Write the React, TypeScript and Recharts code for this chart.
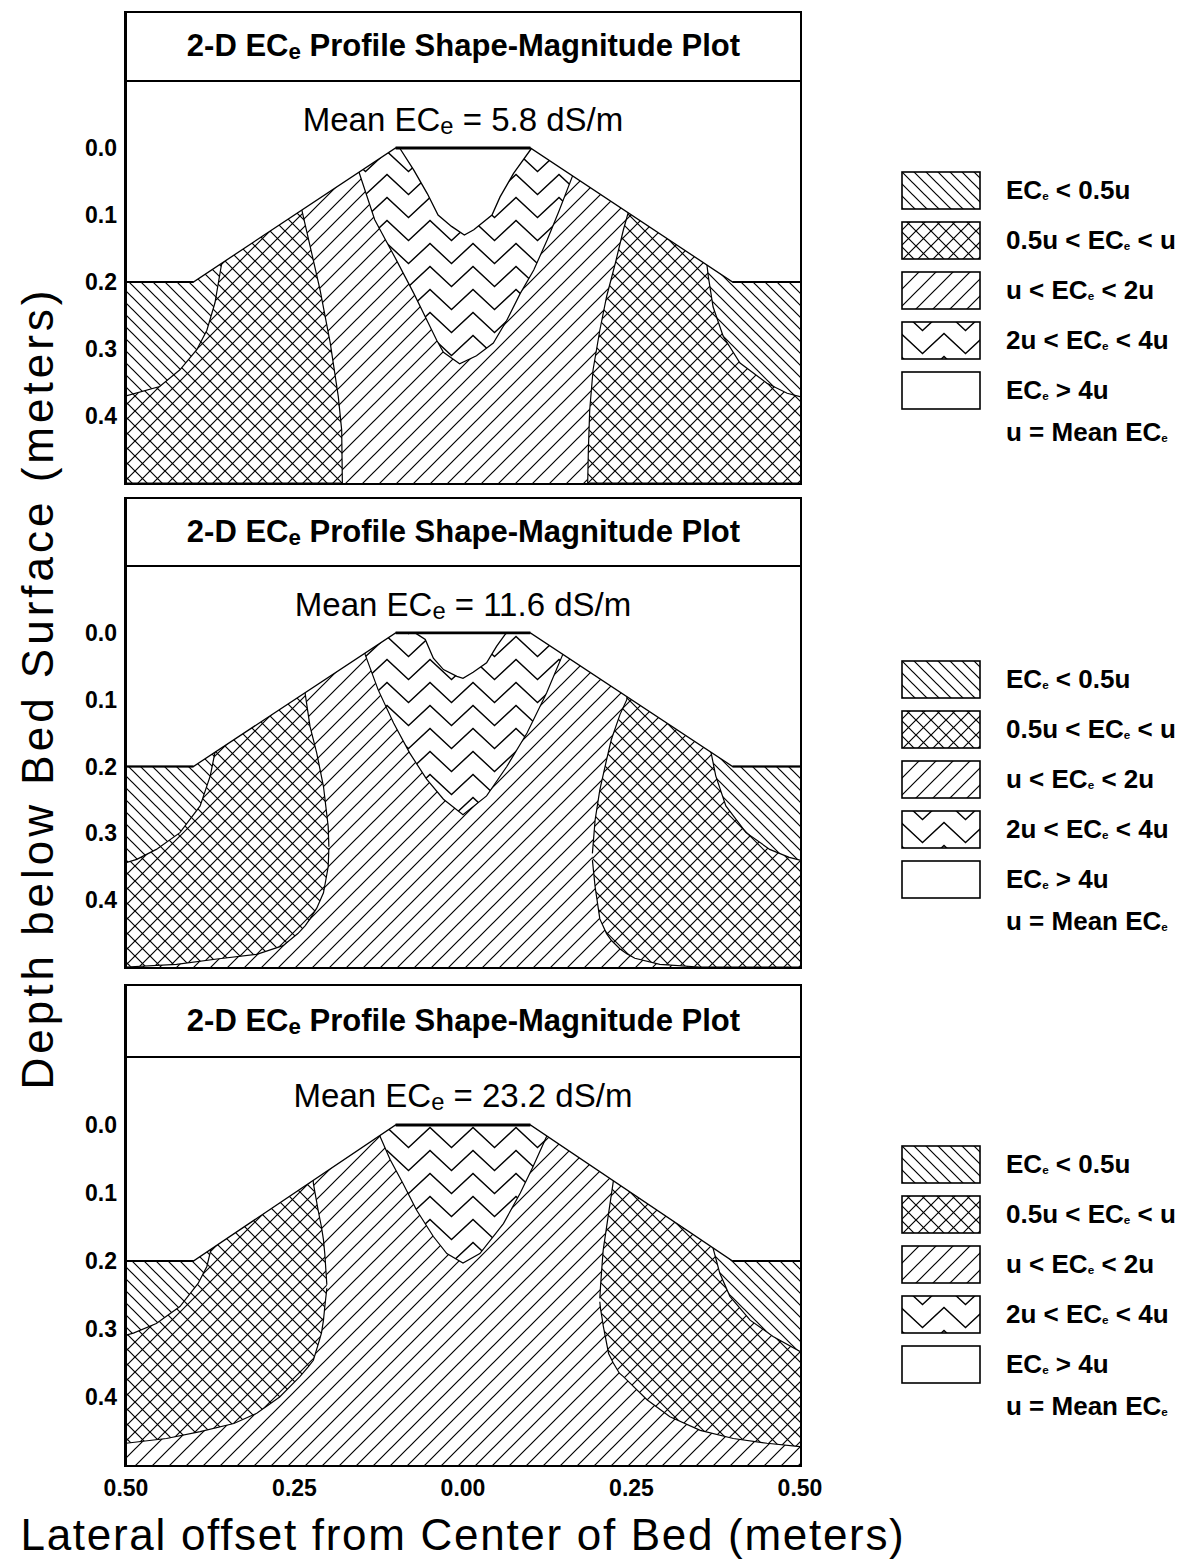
import React from 'react'
import { ComposedChart, Area, Line, XAxis, YAxis } from 'recharts'

// Each region row: [lateral offset (m), upper depth (m), lower depth (m)]
type Row = [number, number, number]

const FONT = '"Liberation Sans", Arial, Helvetica, sans-serif'

/* ---------- shared values ---------- */

const xTicks = [-0.5, -0.25, 0, 0.25, 0.5]
const yTicks = [0, 0.1, 0.2, 0.3, 0.4]
const meanEce = ['5.8', '11.6', '23.2']

// bed surface profile: [offset, depth]
const surface: [number, number][] = [[-0.5, 0.2], [-0.4, 0.2], [-0.1, 0], [0.1, 0], [0.4, 0.2], [0.5, 0.2]]
const crest: [number, number][] = [[-0.1, 0], [0.1, 0]]
const shoulderLeft: [number, number][] = [[-0.5, 0.2], [-0.4, 0.2]]
const shoulderRight: [number, number][] = [[0.4, 0.2], [0.5, 0.2]]
const wholeBed: Row[] = [[-0.5, -0.1, 0.5], [0.5, -0.1, 0.5]]

const legendPre = ['EC', '0.5u < EC', 'u < EC', '2u < EC', 'EC']
const legendPost = [' < 0.5u', ' < u', ' < 2u', ' < 4u', ' > 4u']
const legendKinds = ['back', 'cross', 'diag', 'zig', 'white']

/* ---------- panel 1 : mean 5.8 dS/m ---------- */

const p1BackLeft: Row[] = [
  [-0.5, -0.1, 0.37], [-0.45, -0.1, 0.356], [-0.42, -0.1, 0.331], [-0.395, -0.1, 0.301],
  [-0.38, -0.1, 0.272], [-0.368, -0.1, 0.231], [-0.358, -0.1, 0.172], [-0.352, -0.1, 0.14],
]
const p1BackRight: Row[] = [
  [0.356, -0.1, 0.14], [0.362, -0.1, 0.175], [0.364, -0.1, 0.192], [0.371, -0.1, 0.237],
  [0.386, -0.1, 0.281], [0.411, -0.1, 0.321], [0.451, -0.1, 0.351], [0.481, -0.1, 0.366], [0.5, -0.1, 0.371],
]
const p1CrossLeft: Row[] = [
  [-0.5, -0.1, 0.5], [-0.25, -0.1, 0.5], [-0.239, 0.093, 0.5], [-0.229, 0.137, 0.5], [-0.212, 0.212, 0.5],
  [-0.197, 0.291, 0.5], [-0.185, 0.371, 0.5], [-0.18, 0.421, 0.5], [-0.179, 0.5, 0.5],
]
const p1CrossRight: Row[] = [
  [0.185, 0.5, 0.5], [0.186, 0.451, 0.5], [0.188, 0.391, 0.5], [0.193, 0.331, 0.5], [0.203, 0.272, 0.5],
  [0.213, 0.222, 0.5], [0.226, 0.172, 0.5], [0.238, 0.122, 0.5], [0.245, 0.097, 0.5], [0.256, -0.1, 0.5], [0.5, -0.1, 0.5],
]
const p1Zig: Row[] = [
  [-0.16, -0.1, 0.0], [-0.154, -0.1, 0.037], [-0.131, -0.1, 0.107], [-0.099, -0.1, 0.167], [-0.073, -0.1, 0.217],
  [-0.039, -0.1, 0.287], [-0.029, -0.1, 0.305], [-0.005, -0.1, 0.322], [0.02, -0.1, 0.31], [0.045, -0.1, 0.291],
  [0.065, -0.1, 0.257], [0.085, -0.1, 0.217], [0.105, -0.1, 0.182], [0.125, -0.1, 0.137], [0.142, -0.1, 0.095],
  [0.164, -0.1, 0.038], [0.17, -0.1, 0.0],
]
const p1White: Row[] = [
  [-0.094, -0.1, 0], [-0.073, -0.1, 0.033], [-0.053, -0.1, 0.068], [-0.037, -0.1, 0.1], [-0.017, -0.1, 0.117],
  [0.002, -0.1, 0.13], [0.016, -0.1, 0.122], [0.043, -0.1, 0.1], [0.055, -0.1, 0.073], [0.075, -0.1, 0.038], [0.102, -0.1, 0],
]

/* ---------- panel 2 : mean 11.6 dS/m ---------- */

const p2BackLeft: Row[] = [
  [-0.5, -0.1, 0.344], [-0.484, -0.1, 0.339], [-0.455, -0.1, 0.324], [-0.42, -0.1, 0.299],
  [-0.39, -0.1, 0.259], [-0.375, -0.1, 0.214], [-0.368, -0.1, 0.179], [-0.362, -0.1, 0.15],
]
const p2BackRight: Row[] = [
  [0.362, -0.1, 0.15], [0.368, -0.1, 0.179], [0.375, -0.1, 0.214], [0.39, -0.1, 0.259],
  [0.42, -0.1, 0.299], [0.455, -0.1, 0.324], [0.484, -0.1, 0.336], [0.5, -0.1, 0.34],
]
const p2CrossLeft: Row[] = [
  [-0.5, -0.1, 0.5], [-0.425, -0.1, 0.496], [-0.365, -0.1, 0.488], [-0.306, -0.1, 0.481], [-0.267, -0.1, 0.468],
  [-0.245, -0.1, 0.45], [-0.234, 0.092, 0.438], [-0.227, 0.14, 0.428], [-0.217, 0.18, 0.412], [-0.207, 0.23, 0.389],
  [-0.2, 0.29, 0.35], [-0.199, 0.32, 0.322],
]
const p2CrossRight: Row[] = [
  [0.192, 0.33, 0.34], [0.196, 0.28, 0.38], [0.203, 0.235, 0.428], [0.213, 0.19, 0.45], [0.22, 0.16, 0.46],
  [0.233, 0.122, 0.473], [0.243, 0.1, 0.48], [0.255, -0.1, 0.487], [0.292, -0.1, 0.496], [0.35, -0.1, 0.5], [0.5, -0.1, 0.5],
]
const p2Zig: Row[] = [
  [-0.152, -0.1, 0.0], [-0.145, -0.1, 0.033], [-0.126, -0.1, 0.085], [-0.103, -0.1, 0.135], [-0.079, -0.1, 0.18],
  [-0.054, -0.1, 0.219], [-0.029, -0.1, 0.249], [0.0, -0.1, 0.272], [0.035, -0.1, 0.244], [0.065, -0.1, 0.2],
  [0.095, -0.1, 0.15], [0.124, -0.1, 0.09], [0.149, -0.1, 0.03], [0.156, -0.1, 0.0],
]
const p2White: Row[] = [
  [-0.071, -0.1, 0], [-0.056, -0.1, 0.01], [-0.044, -0.1, 0.038], [-0.029, -0.1, 0.055], [-0.009, -0.1, 0.065],
  [0.0, -0.1, 0.068], [0.015, -0.1, 0.059], [0.035, -0.1, 0.045], [0.05, -0.1, 0.02], [0.062, -0.1, 0.003], [0.065, -0.1, 0],
]

/* ---------- panel 3 : mean 23.2 dS/m ---------- */

const p3BackLeft: Row[] = [
  [-0.5, -0.1, 0.309], [-0.489, -0.1, 0.306], [-0.455, -0.1, 0.292], [-0.42, -0.1, 0.267],
  [-0.393, -0.1, 0.233], [-0.38, -0.1, 0.208], [-0.373, -0.1, 0.179], [-0.367, -0.1, 0.15],
]
const p3BackRight: Row[] = [
  [0.365, -0.1, 0.15], [0.371, -0.1, 0.181], [0.381, -0.1, 0.218], [0.396, -0.1, 0.252],
  [0.426, -0.1, 0.287], [0.46, -0.1, 0.311], [0.5, -0.1, 0.333],
]
const p3CrossLeft: Row[] = [
  [-0.5, -0.1, 0.468], [-0.44, -0.1, 0.461], [-0.39, -0.1, 0.451], [-0.34, -0.1, 0.439], [-0.306, -0.1, 0.424],
  [-0.272, -0.1, 0.4], [-0.242, -0.1, 0.37], [-0.23, -0.1, 0.356], [-0.222, 0.086, 0.346], [-0.215, 0.125, 0.323],
  [-0.21, 0.15, 0.306], [-0.207, 0.169, 0.287], [-0.205, 0.19, 0.267], [-0.202, 0.235, 0.24],
]
const p3CrossRight: Row[] = [
  [0.203, 0.255, 0.26], [0.204, 0.238, 0.27], [0.206, 0.21, 0.282], [0.208, 0.184, 0.295], [0.216, 0.13, 0.336],
  [0.223, 0.083, 0.35], [0.232, -0.1, 0.365], [0.238, -0.1, 0.37], [0.273, -0.1, 0.404], [0.307, -0.1, 0.429],
  [0.352, -0.1, 0.449], [0.401, -0.1, 0.461], [0.451, -0.1, 0.468], [0.5, -0.1, 0.473],
]
const p3Zig: Row[] = [
  [-0.13, -0.1, -0.01], [-0.123, -0.1, 0.017], [-0.108, -0.1, 0.051], [-0.089, -0.1, 0.086], [-0.069, -0.1, 0.125],
  [-0.044, -0.1, 0.164], [-0.024, -0.1, 0.189], [0.0, -0.1, 0.203], [0.025, -0.1, 0.189], [0.06, -0.1, 0.145],
  [0.085, -0.1, 0.1], [0.104, -0.1, 0.061], [0.124, -0.1, 0.017], [0.13, -0.1, -0.01],
]

const panelRegions = [
  { back: [p1BackLeft, p1BackRight], cross: [p1CrossLeft, p1CrossRight], zig: p1Zig, white: p1White },
  { back: [p2BackLeft, p2BackRight], cross: [p2CrossLeft, p2CrossRight], zig: p2Zig, white: p2White },
  { back: [p3BackLeft, p3BackRight], cross: [p3CrossLeft, p3CrossRight], zig: p3Zig, white: null },
]

// page layout (px)
const layout = [
  { titleTop: 11, plotTop: 81, plotH: 402, legendTop: 171 },
  { titleTop: 497, plotTop: 566, plotH: 401, legendTop: 660 },
  { titleTop: 984, plotTop: 1057, plotH: 408, legendTop: 1145 },
]

const band = (a: Row[]) => a.map(([x, lo, hi]) => ({ x, band: [lo, hi] }))
const pts = (a: [number, number][]) => a.map(([x, y]) => ({ x, y }))
const skyRows = surface.map(([x, d]) => ({ x, band: [-0.1, d] }))

const tickStyle = { fill: '#000', fontSize: 23, fontWeight: 700, fontFamily: FONT }

function Patterns({ prefix }: { prefix: string }) {
  return (
    <defs>
      <pattern id={`${prefix}-back`} width={12} height={12} patternUnits="userSpaceOnUse">
        <rect width={12} height={12} fill="#fff" />
        <path d="M-3,-3L15,15M-3,9L3,15M9,-3L15,3" stroke="#000" strokeWidth={1.2} />
      </pattern>
      <pattern id={`${prefix}-cross`} width={15} height={15} patternUnits="userSpaceOnUse">
        <rect width={15} height={15} fill="#fff" />
        <path d="M-2,-2L17,17M17,-2L-2,17" stroke="#000" strokeWidth={1.2} />
      </pattern>
      <pattern id={`${prefix}-diag`} width={17} height={17} patternUnits="userSpaceOnUse">
        <rect width={17} height={17} fill="#fff" />
        <path d="M-3,20L20,-3M-3,3L3,-3M14,20L20,14" stroke="#000" strokeWidth={1.2} />
      </pattern>
      <pattern id={`${prefix}-zig`} width={43} height={23} patternUnits="userSpaceOnUse">
        <rect width={43} height={23} fill="#fff" />
        <path d="M-21.5,21.5L0,1.5L21.5,21.5L43,1.5L64.5,21.5" fill="none" stroke="#000" strokeWidth={1.3} />
      </pattern>
    </defs>
  )
}

const Sub = ({ size }: { size: string }) => (
  <span style={{ fontSize: size, verticalAlign: '-0.12em' }}>e</span>
)

function Panel({ idx }: { idx: number }) {
  const r = panelRegions[idx]
  const L = layout[idx]
  const showX = idx === 2
  const h = L.plotH + (showX ? 50 : 0)
  const p = `p${idx}`
  const common = {
    type: 'linear' as const, dataKey: 'band', isAnimationActive: false, activeDot: false, dot: false, fillOpacity: 1,
  }

  return (
    <>
      <div style={{ position: 'absolute', left: 0, top: L.plotTop, width: 840, height: h }}>
        <ComposedChart width={840} height={h} margin={{ top: 0, right: 40, bottom: 0, left: 0 }}>
          <Patterns prefix={p} />
          <XAxis
            type="number"
            dataKey="x"
            domain={[-0.5, 0.5]}
            allowDataOverflow
            ticks={xTicks}
            interval={0}
            hide={!showX}
            height={50}
            tickLine={false}
            axisLine={false}
            tickSize={6}
            tickMargin={9}
            tick={tickStyle}
            tickFormatter={(v: number) => Math.abs(v).toFixed(2)}
          />
          <YAxis
            type="number"
            domain={[-0.1, 0.5]}
            reversed
            allowDataOverflow
            ticks={yTicks}
            interval={0}
            width={126}
            tickLine={false}
            axisLine={false}
            tickSize={6}
            tickMargin={3}
            tick={tickStyle}
            tickFormatter={(v: number) => v.toFixed(1)}
          />
          <Area {...common} data={band(wholeBed)} fill={`url(#${p}-diag)`} stroke="none" />
          {r.cross.map((a, i) => (
            <Area key={`c${i}`} {...common} data={band(a)} fill={`url(#${p}-cross)`} stroke="#000" strokeWidth={1.2} />
          ))}
          {r.back.map((a, i) => (
            <Area key={`b${i}`} {...common} data={band(a)} fill={`url(#${p}-back)`} stroke="#000" strokeWidth={1.2} />
          ))}
          <Area {...common} data={band(r.zig)} fill={`url(#${p}-zig)`} stroke="#000" strokeWidth={1.2} />
          {r.white && <Area {...common} data={band(r.white)} fill="#fff" stroke="#000" strokeWidth={1.3} />}
          <Area {...common} data={skyRows} fill="#fff" stroke="#000" strokeWidth={1.3} />
          <Line data={pts(crest)} dataKey="y" stroke="#000" strokeWidth={2.8} dot={false} activeDot={false} isAnimationActive={false} />
          <Line data={pts(shoulderLeft)} dataKey="y" stroke="#000" strokeWidth={2.2} dot={false} activeDot={false} isAnimationActive={false} />
          <Line data={pts(shoulderRight)} dataKey="y" stroke="#000" strokeWidth={2.2} dot={false} activeDot={false} isAnimationActive={false} />
        </ComposedChart>
      </div>
      {/* plot frame */}
      <div
        style={{
          position: 'absolute', left: 124, top: L.plotTop - 2, width: 678, height: L.plotH + 4,
          border: '2.5px solid #000', borderLeftWidth: 3, boxSizing: 'border-box', pointerEvents: 'none',
        }}
      />
      {/* title box */}
      <div
        style={{
          position: 'absolute', left: 124, top: L.titleTop, width: 678, height: L.plotTop - L.titleTop + 1,
          border: '2.5px solid #000', borderLeftWidth: 3, boxSizing: 'border-box', display: 'flex',
          alignItems: 'center', justifyContent: 'center', fontFamily: FONT, fontWeight: 700, fontSize: 31,
          background: '#fff',
        }}
      >
        <span>2-D EC<Sub size="0.72em" /> Profile Shape-Magnitude Plot</span>
      </div>
      <div
        style={{
          position: 'absolute', left: 126, width: 674, top: L.plotTop + 19, height: 40, lineHeight: '40px',
          textAlign: 'center', fontFamily: FONT, fontSize: 33,
        }}
      >
        Mean EC<Sub size="0.72em" /> = {meanEce[idx]} dS/m
      </div>
      <LegendBlock idx={idx} />
    </>
  )
}

function LegendBlock({ idx }: { idx: number }) {
  const top = layout[idx].legendTop
  const p = `l${idx}`
  const text = {
    position: 'absolute' as const, left: 1006, height: 32, lineHeight: '32px', fontSize: 26, fontWeight: 700,
    fontFamily: FONT, whiteSpace: 'nowrap' as const,
  }
  return (
    <>
      <svg style={{ position: 'absolute', left: 901, top }} width={82} height={250}>
        <Patterns prefix={p} />
        {legendKinds.map((k, i) => (
          <rect key={k} x={1} y={1 + i * 50} width={78} height={37} fill={k === 'white' ? '#fff' : `url(#${p}-${k})`} stroke="#000" strokeWidth={1.6} />
        ))}
      </svg>
      {legendPre.map((pre, i) => (
        <div key={i} style={{ ...text, top: top + i * 50 + 3 }}>
          {pre}<Sub size="0.45em" />{legendPost[i]}
        </div>
      ))}
      <div style={{ ...text, top: top + 245 }}>
        u = Mean EC<Sub size="0.45em" />
      </div>
    </>
  )
}

export default function App() {
  return (
    <div style={{ position: 'absolute', left: 0, top: 0, width: 1185, height: 1563, background: '#fff', fontFamily: FONT, overflow: 'hidden' }}>
      {[0, 1, 2].map((i) => (
        <Panel key={i} idx={i} />
      ))}
      <div
        style={{
          position: 'absolute', left: 38 - 450, top: 688 - 30, width: 900, height: 60, lineHeight: '60px',
          textAlign: 'center', fontSize: 44, letterSpacing: 4, transform: 'rotate(-90deg)', whiteSpace: 'nowrap',
        }}
      >
        Depth below Bed Surface (meters)
      </div>
      <div
        style={{
          position: 'absolute', left: 463 - 500, top: 1535 - 30, width: 1000, height: 60, lineHeight: '60px',
          textAlign: 'center', fontSize: 44, letterSpacing: 1.7, whiteSpace: 'nowrap',
        }}
      >
        Lateral offset from Center of Bed (meters)
      </div>
    </div>
  )
}
